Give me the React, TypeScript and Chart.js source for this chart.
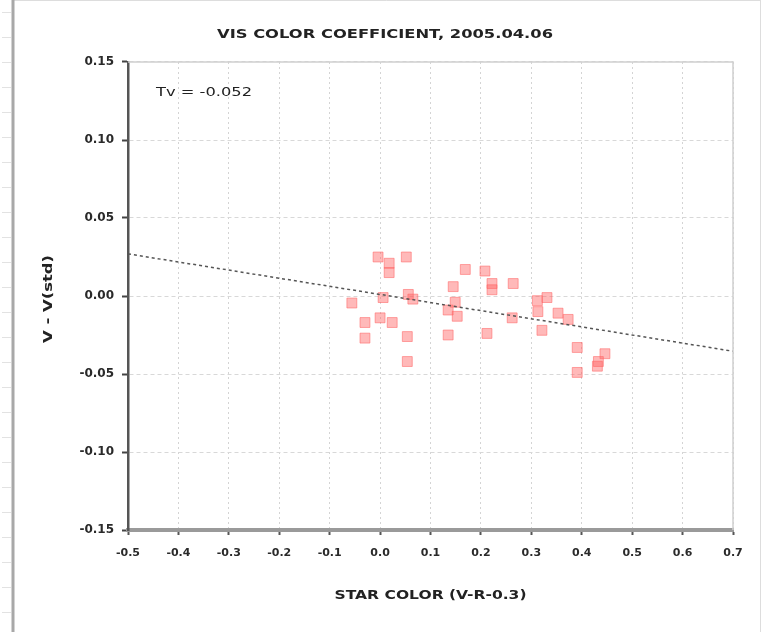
import React, { useEffect, useRef } from "react";
import { Chart, registerables } from "chart.js";

Chart.register(...registerables);

// Star colour index (V-R-0.3) for each comparison star
const starColor = [
  -0.056, -0.03, -0.03, -0.004, 0.006, 0.0, 0.018, 0.018, 0.024, 0.052,
  0.056, 0.065, 0.054, 0.054, 0.145, 0.149, 0.135, 0.153, 0.135, 0.169,
  0.208, 0.222, 0.222, 0.264, 0.212, 0.262, 0.312, 0.331, 0.313, 0.321,
  0.353, 0.373, 0.391, 0.391, 0.433, 0.446, 0.431,
];

// Magnitude residual V - V(std) for each star
const magResidual = [
  -0.0045, -0.027, -0.017, 0.025, -0.001, -0.014, 0.021, 0.015, -0.017, 0.025,
  0.001, -0.002, -0.026, -0.042, 0.006, -0.004, -0.009, -0.013, -0.025, 0.017,
  0.016, 0.008, 0.004, 0.008, -0.024, -0.014, -0.003, -0.001, -0.01, -0.022,
  -0.011, -0.015, -0.033, -0.049, -0.042, -0.037, -0.045,
];

// Fitted transformation coefficient and offset
const trendSlope = -0.052;
const trendIntercept = 0.001;

const xRange = [-0.5, 0.7];
const yRange = [-0.15, 0.15];

const titleText = "VIS COLOR COEFFICIENT, 2005.04.06";
const xTitle = "STAR COLOR (V-R-0.3)";
const yTitle = "V - V(std)";
const coefText = "Tv = -0.052";

const FONT = "'DejaVu Sans', Verdana, sans-serif";

// Draws text stretched horizontally so it spans the given width
function drawFitted(
  ctx: CanvasRenderingContext2D,
  text: string,
  x: number,
  y: number,
  width: number,
  align: "left" | "center"
) {
  const w = ctx.measureText(text).width;
  const k = width / w;
  ctx.save();
  ctx.translate(x, y);
  ctx.scale(k, 1);
  ctx.textAlign = align;
  ctx.fillText(text, 0, 0);
  ctx.restore();
}

export default function App() {
  const canvasRef = useRef<HTMLCanvasElement | null>(null);

  useEffect(() => {
    const canvas = canvasRef.current;
    if (!canvas) return;

    const points = starColor.map((x, i) => ({ x, y: magResidual[i] }));
    const trend = xRange.map((x) => ({ x, y: trendIntercept + trendSlope * x }));

    const decorations = {
      id: "decorations",
      beforeDraw(chart: any) {
        const { ctx, width, height } = chart;
        ctx.save();
        ctx.fillStyle = "#ffffff";
        ctx.fillRect(0, 0, width, height);
        // outer frame
        ctx.strokeStyle = "#dddddd";
        ctx.lineWidth = 1;
        ctx.beginPath();
        ctx.moveTo(12, 0.5);
        ctx.lineTo(width - 1.5, 0.5);
        ctx.moveTo(width - 1.5, 0);
        ctx.lineTo(width - 1.5, height);
        ctx.stroke();
        ctx.strokeStyle = "#a8a8a8";
        ctx.lineWidth = 3;
        ctx.beginPath();
        ctx.moveTo(13, 0);
        ctx.lineTo(13, height);
        ctx.stroke();
        ctx.strokeStyle = "#e2e2e2";
        ctx.lineWidth = 1;
        ctx.beginPath();
        for (let y = 12; y < height; y += 25) {
          ctx.moveTo(2, y + 0.5);
          ctx.lineTo(11, y + 0.5);
        }
        ctx.stroke();
        ctx.restore();
      },
      afterDraw(chart: any) {
        const { ctx, chartArea } = chart;
        const { left, right, top, bottom } = chartArea;
        ctx.save();
        // plot area top and right edges
        ctx.strokeStyle = "#d0d0d0";
        ctx.lineWidth = 1.5;
        ctx.beginPath();
        ctx.moveTo(left, top);
        ctx.lineTo(right, top);
        ctx.lineTo(right, bottom);
        ctx.stroke();

        ctx.fillStyle = "#222222";
        ctx.textBaseline = "middle";
        ctx.font = `bold 13px ${FONT}`;
        drawFitted(ctx, titleText, 385, 35, 336, "center");

        ctx.font = `bold 12px ${FONT}`;
        drawFitted(ctx, xTitle, (left + right) / 2, 596, 192, "center");

        ctx.save();
        ctx.translate(49, 299);
        ctx.rotate(-Math.PI / 2);
        ctx.font = `bold 12px ${FONT}`;
        drawFitted(ctx, yTitle, 0, 0, 88, "center");
        ctx.restore();

        ctx.font = `13px ${FONT}`;
        drawFitted(ctx, coefText, 156, 93, 96, "left");
        ctx.restore();
      },
    };

    const chart = new Chart(canvas, {
      type: "scatter",
      data: {
        datasets: [
          {
            label: "stars",
            data: points,
            pointStyle: "rect",
            pointRadius: 7,
            backgroundColor: "rgba(255, 100, 100, 0.45)",
            borderColor: "rgba(255, 100, 100, 0.55)",
            borderWidth: 1,
            order: 2,
          },
          {
            label: "fit",
            type: "line",
            data: trend,
            showLine: true,
            pointRadius: 0,
            borderColor: "#555555",
            borderWidth: 1.5,
            borderDash: [3, 3],
            order: 1,
          } as any,
        ],
      },
      plugins: [decorations],
      options: {
        animation: false,
        responsive: false,
        devicePixelRatio: 1,
        layout: { padding: { left: 0, right: 29, top: 62, bottom: 0 } },
        plugins: {
          legend: { display: false },
          title: { display: false },
          tooltip: { enabled: false },
        },
        scales: {
          x: {
            type: "linear",
            min: xRange[0],
            max: xRange[1],
            afterFit(scale: any) {
              scale.height = 102;
            },
            afterBuildTicks(scale: any) {
              const t = [];
              for (let v = -5; v <= 7; v++) t.push({ value: v / 10 });
              scale.ticks = t;
            },
            ticks: {
              color: "#2a2a2a",
              font: { family: FONT, size: 11, weight: "bold" },
              padding: 12,
              maxRotation: 0,
              autoSkip: false,
              callback: (v: any) => Number(v).toFixed(1),
            },
            grid: {
              color: "#d4d4d4",
              lineWidth: 1,
              tickLength: 5,
              tickColor: "#555555",
              tickWidth: 2,
              drawOnChartArea: true,
            },
            border: { display: true, color: "#9a9a9a", width: 4, dash: [2, 3] },
          },
          y: {
            type: "linear",
            min: yRange[0],
            max: yRange[1],
            afterFit(scale: any) {
              scale.width = 128;
            },
            afterBuildTicks(scale: any) {
              const t = [];
              for (let v = -3; v <= 3; v++) t.push({ value: v * 0.05 });
              scale.ticks = t;
            },
            ticks: {
              color: "#2a2a2a",
              font: { family: FONT, size: 12, weight: "bold" },
              padding: 8,
              autoSkip: false,
              callback: (v: any) => Number(v).toFixed(2),
            },
            grid: {
              color: "#d8d8d8",
              lineWidth: 1,
              tickLength: 6,
              tickColor: "#444444",
              tickWidth: 2,
            },
            border: { display: true, color: "#555555", width: 2.5, dash: [4, 3] },
          },
        },
      },
    });

    return () => chart.destroy();
  }, []);

  return (
    <div
      style={{
        position: "absolute",
        left: 0,
        top: 0,
        width: 762,
        height: 632,
        background: "#ffffff",
      }}
    >
      <canvas ref={canvasRef} width={762} height={632} style={{ display: "block" }} />
    </div>
  );
}
